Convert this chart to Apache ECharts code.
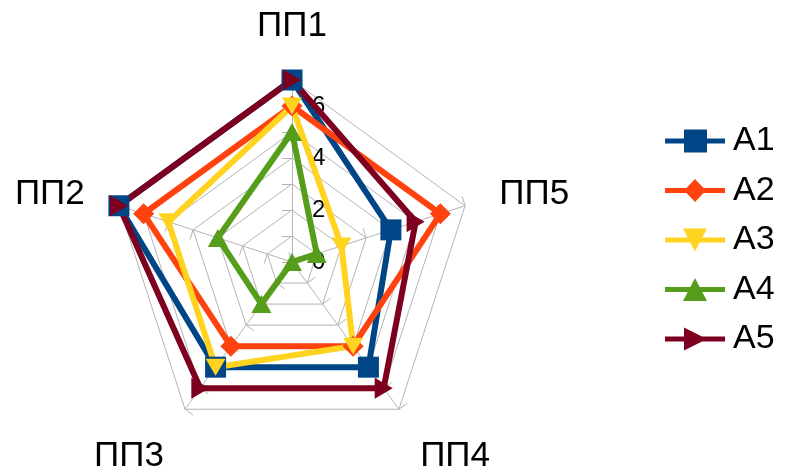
<!DOCTYPE html>
<html>
<head>
<meta charset="utf-8">
<title>ПП radar</title>
<script src="https://cdn.jsdelivr.net/npm/echarts@6.0.0/dist/echarts.min.js"></script>
<style>
  html, body { margin: 0; padding: 0; background: #fff; }
  #chart { width: 785px; height: 474px; }
</style>
</head>
<body>
<div id="chart"></div>
<script>
'use strict';

// 指标（逆时针，从顶部开始）
var indicators = ['ПП1', 'ПП2', 'ПП3', 'ПП4', 'ПП5'];
var seriesNames = ['A1', 'A2', 'A3', 'A4', 'A5'];
var a1 = [7, 7, 5, 5, 4];
var a2 = [6, 6, 4, 4, 6];
var a3 = [6, 5, 5, 4, 2];
var a4 = [5, 3, 2, 0, 1];
var a5 = [7, 7, 6, 6, 5];
var axisMax = 7;

var colors = ['#004586', '#ff420e', '#ffd320', '#579d1c', '#7e0021'];
var symbols = [
  'rect',
  'diamond',
  'path://M0,0L20,0L10,17Z',
  'triangle',
  'path://M0,0L17,10L0,20Z'
];
var symbolSizes = [21, 21, [20, 17], [20, 18], [18, 21]];

// 图例图标：线 + 标记，60x23
var legendIcons = [
  'path://M0,9H19V0H42V9H60V14H42V23H19V14H0Z',
  'path://M0,9H21.4L30,0L38.6,9H60V14H38.6L30,23L21.4,14H0Z',
  'path://M0,9H22.7L18,0H42L37.3,9H60V14H34.7L30,23L25.3,14H0Z',
  'path://M0,9H25.3L30,0L34.7,9H60V14H37.3L42,23H18L22.7,14H0Z',
  'path://M0,9H19V0L37,9H60V14H37L19,23V14H0Z'
];

var values = [a1, a2, a3, a4, a5];
var font = '"Liberation Sans", Arial, sans-serif';

var chart = echarts.init(document.getElementById('chart'));

// ПП1轴上的刻度值：0 2 4 6
var tickLabel = {
  show: true,
  color: '#000',
  fontSize: 24,
  fontFamily: font,
  align: 'left',
  verticalAlign: 'middle',
  margin: -20,
  formatter: function (v) {
    return v % 2 === 0 ? String(v) : '';
  }
};

var indicatorList = indicators.map(function (name, i) {
  var item = { name: name, min: 0, max: axisMax };
  if (i === 0) {
    item.axisLabel = tickLabel;
  }
  return item;
});

var series = seriesNames.map(function (name, i) {
  return {
    name: name,
    type: 'radar',
    symbol: symbols[i],
    symbolSize: symbolSizes[i],
    lineStyle: { color: colors[i], width: 6 },
    itemStyle: { color: colors[i], borderWidth: 0 },
    emphasis: { disabled: true },
    data: [{ name: name, value: values[i] }]
  };
});

var option = {
  animation: false,
  color: colors,
  legend: {
    orient: 'vertical',
    left: 660,
    top: 119,
    itemWidth: 60,
    itemHeight: 23,
    itemGap: 15.5,
    itemStyle: { borderWidth: 0 },
    textStyle: { fontSize: 34, lineHeight: 34, color: '#000', fontFamily: font, padding: [0, 0, 0, 3] },
    data: seriesNames.map(function (name, i) {
      return { name: name, icon: legendIcons[i] };
    })
  },
  radar: {
    center: [292, 262],
    radius: 182,
    startAngle: 90,
    shape: 'polygon',
    splitNumber: axisMax,
    indicator: indicatorList,
    axisName: {
      color: '#000',
      fontSize: 35,
      lineHeight: 36,
      fontFamily: font,
      formatter: function (name) {
        // 底部两个名字往下移一点
        return (name === indicators[2] || name === indicators[3]) ? '\n' + name : name;
      }
    },
    nameGap: 36,
    axisLine: { show: true, lineStyle: { color: '#b3b3b3', width: 1 } },
    axisTick: { show: true, length: 10, lineStyle: { color: '#b3b3b3', width: 1 } },
    axisLabel: { show: false },
    splitLine: { lineStyle: { color: '#b3b3b3', width: 1 } },
    splitArea: { show: false }
  },
  series: series
};

chart.setOption(option);
</script>
</body>
</html>
